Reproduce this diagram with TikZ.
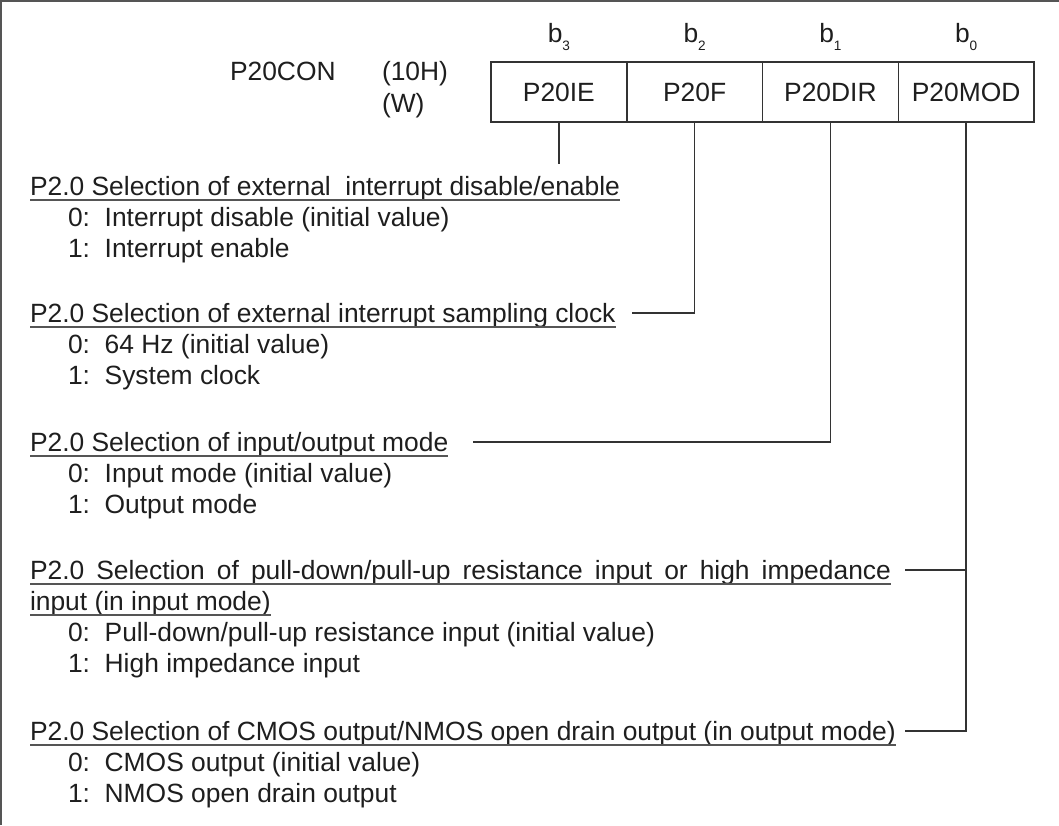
\documentclass[tikz,border=0pt]{standalone}
\usepackage{fontspec}
\setmainfont{Liberation Sans}
\usetikzlibrary{calc}
\definecolor{ink}{HTML}{1E1E1E}
\definecolor{rule}{HTML}{333333}
\definecolor{uline}{HTML}{555555}
\tikzset{
  txt/.style={anchor=base west, inner sep=0pt, outer sep=0pt, text=ink, font=\fontsize{13.2}{16}\selectfont},
  cell/.style={draw=rule, line width=0.75pt, minimum width=67.875pt, minimum height=30pt, inner sep=0pt, outer sep=0pt, text=ink, font=\fontsize{13.2}{16}\selectfont},
  bitlab/.style={anchor=base, inner sep=0pt, text=ink, font=\fontsize{13.2}{16}\selectfont},
  ulinestyle/.style={draw=uline, line width=1.2pt},
  conn/.style={draw=rule, line width=0.7pt},
  frame/.style={draw=uline, line width=1pt}
}
\newcommand{\bsub}[1]{b\raisebox{-4pt}{\fontsize{6.8}{7}\selectfont #1}}
\begin{document}
\begin{tikzpicture}[x=0.5pt,y=-0.5pt]
\useasboundingbox (0,0) rectangle (1059,825);
% frame
\draw[frame] (1,825) -- (1,1) -- (1059,1);

% register title
\node[txt] (title) at (230,80) {P20CON};
\node[txt] (addr) at (382,80) {(10H)};
\node[txt] (rw) at (382,112) {(W)};

% register cells
\node[cell] (c3) at (558.875,92) {P20IE};
\node[cell] (c2) at (694.625,92) {P20F};
\node[cell] (c1) at (830.375,92) {P20DIR};
\node[cell] (c0) at (966.125,92) {P20MOD};

% bit labels
\node[bitlab] (b3) at (558.875,42) {\bsub{3}};
\node[bitlab] (b2) at (694.625,42) {\bsub{2}};
\node[bitlab] (b1) at (830.375,42) {\bsub{1}};
\node[bitlab] (b0) at (966.125,42) {\bsub{0}};

% block 1
\node[txt] (h1) at (30,195) {P2.0 Selection of external\ \ interrupt disable/enable};
\node[txt] (h1a) at (68,226) {0:\ \ Interrupt disable (initial value)};
\node[txt] (h1b) at (68,257) {1:\ \ Interrupt enable};

% block 2
\node[txt] (h2) at (30,322) {P2.0 Selection of external interrupt sampling clock};
\node[txt] (h2a) at (68,353) {0:\ \ 64 Hz (initial value)};
\node[txt] (h2b) at (68,384) {1:\ \ System clock};

% block 3
\node[txt] (h3) at (30,451) {P2.0 Selection of input/output mode};
\node[txt] (h3a) at (68,482) {0:\ \ Input mode (initial value)};
\node[txt] (h3b) at (68,513) {1:\ \ Output mode};

% block 4
\node[txt] (h4) at (30,579) {\makebox[430.5pt][s]{P2.0 Selection of pull-down/pull-up resistance input or high impedance}};
\node[txt] (h4l) at (30,610) {input (in input mode)};
\node[txt] (h4a) at (68,641) {0:\ \ Pull-down/pull-up resistance input (initial value)};
\node[txt] (h4b) at (68,672) {1:\ \ High impedance input};

% block 5
\node[txt] (h5) at (30,740) {P2.0 Selection of CMOS output/NMOS open drain output (in output mode)};
\node[txt] (h5a) at (68,771) {0:\ \ CMOS output (initial value)};
\node[txt] (h5b) at (68,802) {1:\ \ NMOS open drain output};

% underlines
\foreach \n in {h1,h2,h3,h4,h4l,h5}{
  \draw[ulinestyle] ([yshift=-2.5pt]\n.base west) -- ([yshift=-2.5pt]\n.base east);
}

% connector free ends
\coordinate (e1) at (558.875,164);
\coordinate (e2) at (632,313);
\coordinate (e3) at (473,442);
\coordinate (e4) at (905,570);
\coordinate (e5) at (905,731);

\draw[conn] (c3.south) -- (e1);
\draw[conn] (c2.south) |- (e2);
\draw[conn] (c1.south) |- (e3);
\draw[conn] (c0.south) |- (e5);
\draw[conn] (e4) -- (c0.south |- e4);
\end{tikzpicture}
\end{document}
